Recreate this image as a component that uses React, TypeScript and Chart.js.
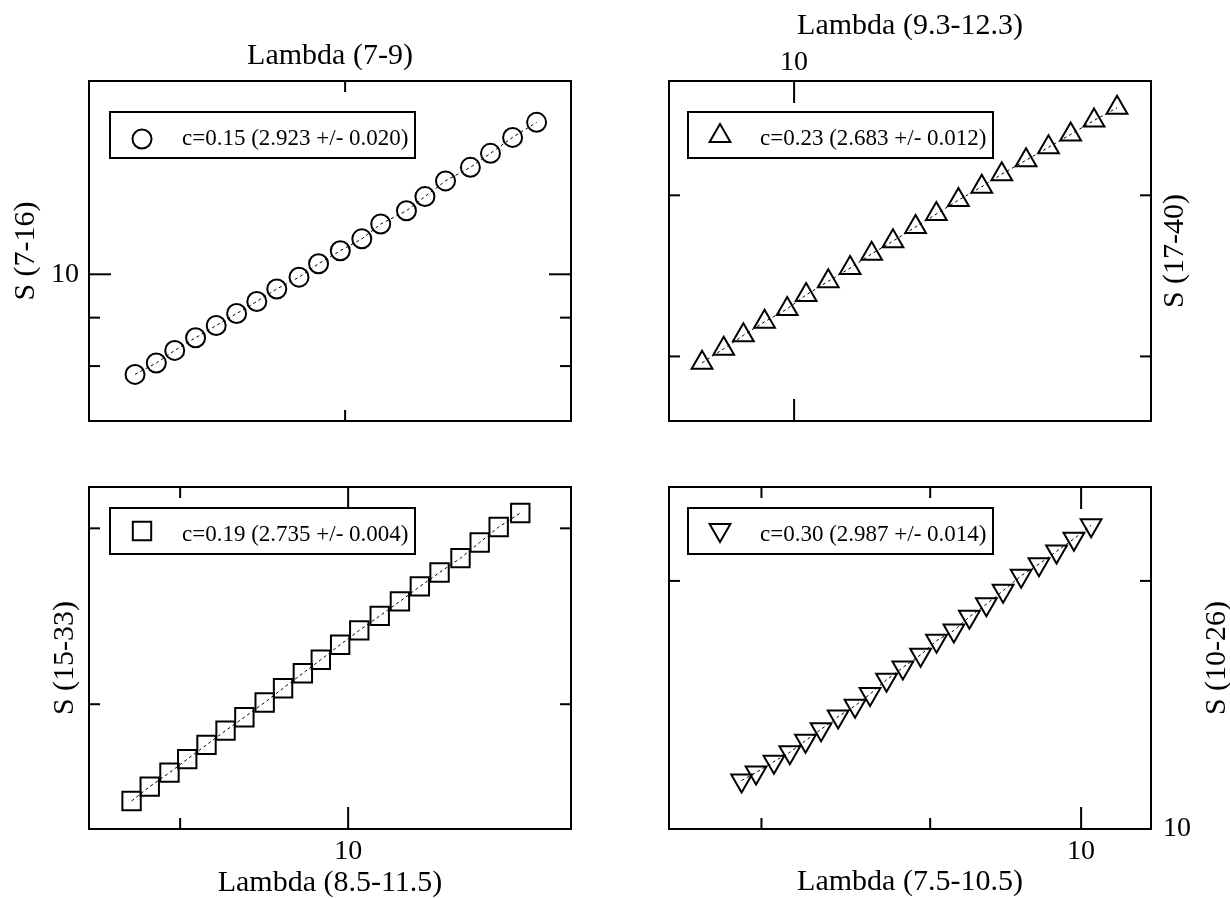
import React, { useEffect, useRef } from 'react';
import { Chart, registerables, PointElement } from 'chart.js';

Chart.register(...registerables);

const FONT_FAMILY = "'Liberation Serif', 'Times New Roman', Times, serif";

// ---------------- data ----------------
// Panel A: c = 0.15
const lambdaA = [7.17, 7.25, 7.32, 7.40, 7.48, 7.56, 7.64, 7.72, 7.81, 7.89, 7.98, 8.07, 8.15, 8.26, 8.34, 8.43, 8.54, 8.63, 8.73, 8.84];
const sA = [7.84, 8.06, 8.31, 8.57, 8.83, 9.09, 9.36, 9.65, 9.93, 10.26, 10.59, 10.90, 11.30, 11.67, 12.08, 12.55, 12.97, 13.42, 13.95, 14.47];
const labelA = 'c=0.15 (2.923 +/- 0.020)';

// Panel B: c = 0.23
const lambdaB = [9.48, 9.60, 9.71, 9.83, 9.96, 10.07, 10.20, 10.33, 10.46, 10.59, 10.73, 10.86, 11.00, 11.15, 11.28, 11.44, 11.59, 11.74, 11.90, 12.06];
const sB = [19.68, 20.39, 21.09, 21.82, 22.54, 23.35, 24.16, 24.98, 25.89, 26.73, 27.70, 28.62, 29.64, 30.65, 31.64, 32.77, 33.85, 34.97, 36.22, 37.39];
const labelB = 'c=0.23 (2.683 +/- 0.012)';

// Panel C: c = 0.19
const lambdaC = [8.73, 8.83, 8.94, 9.04, 9.15, 9.26, 9.37, 9.49, 9.60, 9.72, 9.83, 9.95, 10.07, 10.20, 10.33, 10.46, 10.59, 10.73, 10.86, 10.99, 11.14];
const sC = [16.00, 16.54, 17.08, 17.62, 18.21, 18.82, 19.41, 20.08, 20.75, 21.48, 22.16, 22.94, 23.71, 24.52, 25.35, 26.24, 27.10, 28.01, 29.04, 30.09, 31.08];
const labelC = 'c=0.19 (2.735 +/- 0.004)';

// Panel D: c = 0.30
const lambdaD = [7.89, 7.97, 8.07, 8.16, 8.25, 8.34, 8.44, 8.54, 8.63, 8.73, 8.83, 8.94, 9.04, 9.15, 9.25, 9.36, 9.47, 9.59, 9.71, 9.83, 9.95, 10.07];
const sD = [11.45, 11.71, 12.07, 12.39, 12.80, 13.21, 13.69, 14.11, 14.58, 15.17, 15.70, 16.27, 16.92, 17.41, 18.09, 18.74, 19.46, 20.29, 20.96, 21.72, 22.50, 23.36];
const labelD = 'c=0.30 (2.987 +/- 0.014)';

// axis ranges and tick values
const rangeAx = [7, 9];
const rangeAy = [7, 16];
const ticksAx = [8];
const ticksAy = [8, 9, 10];

const rangeBx = [9.3, 12.3];
const rangeBy = [17, 40];
const ticksBx = [10];
const ticksBy = [20, 30];

const rangeCx = [8.5, 11.5];
const rangeCy = [15, 33];
const ticksCx = [9, 10];
const ticksCy = [20, 30];

const rangeDx = [7.5, 10.5];
const rangeDy = [10, 26];
const ticksDx = [8, 9, 10];
const ticksDy = [10, 20];

const tickLabels = ['10'];

// ---------------- plugins ----------------
const innerTicksPlugin = {
  id: 'innerTicks',
  beforeDatasetsDraw(chart: any) {
    const { ctx, chartArea: a } = chart;
    ctx.save();
    ctx.strokeStyle = '#000';
    ctx.lineWidth = 2;
    Object.values(chart.scales).forEach((scale: any) => {
      const pos = scale.position;
      (scale.ticks || []).forEach((t: any) => {
        const len = Math.abs(t.value - 10) < 1e-9 ? 22 : 11;
        const p = scale.getPixelForValue(t.value);
        if (pos === 'bottom' || pos === 'top') {
          if (p <= a.left + 1 || p >= a.right - 1) return;
          const y0 = pos === 'bottom' ? a.bottom : a.top;
          const dir = pos === 'bottom' ? -1 : 1;
          ctx.beginPath();
          ctx.moveTo(p, y0);
          ctx.lineTo(p, y0 + dir * len);
          ctx.stroke();
        } else {
          if (p <= a.top + 1 || p >= a.bottom - 1) return;
          const x0 = pos === 'left' ? a.left : a.right;
          const dir = pos === 'left' ? 1 : -1;
          ctx.beginPath();
          ctx.moveTo(x0, p);
          ctx.lineTo(x0 + dir * len, p);
          ctx.stroke();
        }
      });
    });
    ctx.restore();
  },
};

const boxLegendPlugin = {
  id: 'boxLegend',
  afterDatasetsDraw(chart: any, _args: any, opts: any) {
    if (!opts || !opts.display) return;
    const { ctx, chartArea: a } = chart;
    const ds: any = chart.data.datasets[0];
    const x0 = a.left + opts.dx;
    const y0 = a.top + opts.dy;
    ctx.save();
    ctx.fillStyle = '#fff';
    ctx.fillRect(x0, y0, opts.w, opts.h);
    ctx.strokeStyle = '#000';
    ctx.lineWidth = 2;
    ctx.strokeRect(x0, y0, opts.w, opts.h);
    const pt: any = new (PointElement as any)({
      x: x0 + opts.markerDx,
      y: y0 + opts.markerDy,
      options: {
        pointStyle: ds.pointStyle,
        radius: ds.pointRadius,
        rotation: ds.pointRotation || 0,
        borderWidth: ds.pointBorderWidth,
        borderColor: '#000',
        backgroundColor: 'rgba(0,0,0,0)',
      },
    });
    pt.draw(ctx);
    ctx.fillStyle = '#000';
    ctx.font = `${opts.fontSize}px ${FONT_FAMILY}`;
    ctx.textAlign = 'left';
    ctx.textBaseline = 'alphabetic';
    ctx.fillText(ds.label, x0 + opts.textDx, y0 + opts.textDy);
    ctx.restore();
  },
};

const sideTitlePlugin = {
  id: 'sideTitle',
  afterDraw(chart: any, _args: any, opts: any) {
    if (!opts || !opts.text) return;
    const { ctx, chartArea: a } = chart;
    ctx.save();
    ctx.translate(a.right + opts.offset, (a.top + a.bottom) / 2);
    ctx.rotate(-Math.PI / 2);
    ctx.fillStyle = '#000';
    ctx.font = `${opts.fontSize}px ${FONT_FAMILY}`;
    ctx.textAlign = 'center';
    ctx.textBaseline = 'middle';
    ctx.fillText(opts.text, 0, 0);
    ctx.restore();
  },
};

// ---------------- helpers ----------------
function logScale(o: {
  position: 'top' | 'bottom' | 'left' | 'right';
  range: number[];
  tickValues: number[];
  size: number;
  labels?: boolean;
  labelPad?: number;
  title?: string;
  titlePad?: number;
}) {
  const horizontal = o.position === 'top' || o.position === 'bottom';
  return {
    type: 'logarithmic',
    axis: horizontal ? 'x' : 'y',
    position: o.position,
    min: o.range[0],
    max: o.range[1],
    bounds: 'data',
    offset: false,
    grid: { display: false, drawTicks: false },
    border: { display: true, color: '#000', width: 2 },
    afterBuildTicks: (scale: any) => {
      scale.ticks = o.tickValues.map((v) => ({ value: v, major: v === 10 }));
    },
    afterFit: (scale: any) => {
      if (horizontal) scale.height = o.size;
      else scale.width = o.size;
    },
    ticks: {
      display: !!o.labels,
      autoSkip: false,
      maxRotation: 0,
      minRotation: 0,
      padding: o.labelPad ?? 0,
      color: '#000',
      font: { family: FONT_FAMILY, size: 28 },
      callback: (v: any) => (tickLabels.includes(String(Math.round(Number(v) * 1000) / 1000)) ? String(Number(v)) : ''),
    },
    title: o.title
      ? {
          display: true,
          text: o.title,
          color: '#000',
          padding: o.titlePad ?? 0,
          font: { family: FONT_FAMILY, size: 30, lineHeight: 1 },
        }
      : { display: false },
  };
}

type PanelCfg = {
  id: string;
  left: number;
  top: number;
  w: number;
  h: number;
  xs: number[];
  ys: number[];
  label: string;
  pointStyle: string;
  radius: number;
  rotation: number;
  scales: any;
  legend: any;
  sideTitle?: any;
};

const legendBase = { display: true, w: 305, h: 46, markerDx: 32, textDx: 72, textDy: 33, fontSize: 23 };

const PANELS: PanelCfg[] = [
  {
    id: 'A', left: 0, top: 0, w: 615, h: 454,
    xs: lambdaA, ys: sA, label: labelA, pointStyle: 'circle', radius: 9.5, rotation: 0,
    scales: {
      x: logScale({ position: 'bottom', range: rangeAx, tickValues: ticksAx, size: 33 }),
      x2: logScale({ position: 'top', range: rangeAx, tickValues: ticksAx, size: 81, title: 'Lambda (7-9)', titlePad: 41 }),
      y: logScale({ position: 'left', range: rangeAy, tickValues: ticksAy, size: 89, labels: true, labelPad: 10, title: 'S (7-16)', titlePad: 11 }),
      y2: logScale({ position: 'right', range: rangeAy, tickValues: ticksAy, size: 44 }),
    },
    legend: { ...legendBase, dx: 21, dy: 31, markerDy: 27 },
  },
  {
    id: 'B', left: 615, top: 0, w: 615, h: 454,
    xs: lambdaB, ys: sB, label: labelB, pointStyle: 'triangle', radius: 12, rotation: 0,
    scales: {
      x: logScale({ position: 'bottom', range: rangeBx, tickValues: ticksBx, size: 33 }),
      x2: logScale({ position: 'top', range: rangeBx, tickValues: ticksBx, size: 81, labels: true, labelPad: 2, title: 'Lambda (9.3-12.3)', titlePad: 11 }),
      y: logScale({ position: 'left', range: rangeBy, tickValues: ticksBy, size: 54 }),
      y2: logScale({ position: 'right', range: rangeBy, tickValues: ticksBy, size: 79 }),
    },
    legend: { ...legendBase, dx: 19, dy: 31, markerDy: 24 },
    sideTitle: { text: 'S (17-40)', offset: 24, fontSize: 30 },
  },
  {
    id: 'C', left: 0, top: 454, w: 615, h: 444,
    xs: lambdaC, ys: sC, label: labelC, pointStyle: 'rect', radius: 13, rotation: 0,
    scales: {
      x: logScale({ position: 'bottom', range: rangeCx, tickValues: ticksCx, size: 69, labels: true, labelPad: 6, title: 'Lambda (8.5-11.5)', titlePad: 0 }),
      x2: logScale({ position: 'top', range: rangeCx, tickValues: ticksCx, size: 33 }),
      y: logScale({ position: 'left', range: rangeCy, tickValues: ticksCy, size: 89, title: 'S (15-33)', titlePad: 50 }),
      y2: logScale({ position: 'right', range: rangeCy, tickValues: ticksCy, size: 44 }),
    },
    legend: { ...legendBase, dx: 21, dy: 21, markerDy: 23 },
  },
  {
    id: 'D', left: 615, top: 454, w: 615, h: 444,
    xs: lambdaD, ys: sD, label: labelD, pointStyle: 'triangle', radius: 12, rotation: 180,
    scales: {
      x: logScale({ position: 'bottom', range: rangeDx, tickValues: ticksDx, size: 69, labels: true, labelPad: 6, title: 'Lambda (7.5-10.5)', titlePad: 1 }),
      x2: logScale({ position: 'top', range: rangeDx, tickValues: ticksDx, size: 33 }),
      y: logScale({ position: 'left', range: rangeDy, tickValues: ticksDy, size: 54 }),
      y2: logScale({ position: 'right', range: rangeDy, tickValues: ticksDy, size: 79, labels: true, labelPad: 12 }),
    },
    legend: { ...legendBase, dx: 19, dy: 21, markerDy: 22 },
    sideTitle: { text: 'S (10-26)', offset: 66, fontSize: 30 },
  },
];

function buildConfig(p: PanelCfg): any {
  return {
    type: 'scatter',
    data: {
      datasets: [
        {
          label: p.label,
          data: p.xs.map((x, i) => ({ x, y: p.ys[i] })),
          xAxisID: 'x',
          yAxisID: 'y',
          showLine: true,
          borderColor: '#000',
          borderWidth: 1,
          borderDash: [3, 3],
          pointStyle: p.pointStyle,
          pointRadius: p.radius,
          pointRotation: p.rotation,
          pointBorderWidth: 2,
          pointBorderColor: '#000',
          pointBackgroundColor: 'rgba(0,0,0,0)',
          clip: false,
        },
      ],
    },
    options: {
      responsive: false,
      animation: false,
      devicePixelRatio: 1,
      layout: { padding: 0 },
      events: [],
      scales: p.scales,
      plugins: {
        legend: { display: false },
        tooltip: { enabled: false },
        boxLegend: p.legend,
        sideTitle: p.sideTitle || {},
      },
    },
    plugins: [innerTicksPlugin, boxLegendPlugin, sideTitlePlugin],
  };
}

function Panel({ cfg }: { cfg: PanelCfg }) {
  const ref = useRef<HTMLCanvasElement>(null);
  useEffect(() => {
    if (!ref.current) return;
    const chart = new Chart(ref.current, buildConfig(cfg));
    return () => chart.destroy();
  }, [cfg]);
  return (
    <canvas
      ref={ref}
      width={cfg.w}
      height={cfg.h}
      style={{ position: 'absolute', left: cfg.left, top: cfg.top, width: cfg.w, height: cfg.h }}
    />
  );
}

export default function App() {
  return (
    <div style={{ position: 'absolute', left: 0, top: 0, width: 1230, height: 898, background: '#fff', overflow: 'hidden' }}>
      {PANELS.map((p) => (
        <Panel key={p.id} cfg={p} />
      ))}
    </div>
  );
}
